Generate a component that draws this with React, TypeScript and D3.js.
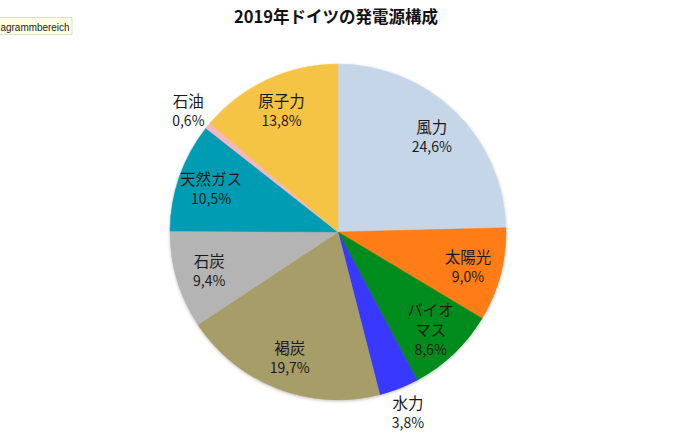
import React, { useEffect, useRef } from 'react'
import * as d3 from 'd3'

// 2019 German electricity generation mix (%)
const sources = ['風力', '太陽光', 'バイオマス', '水力', '褐炭', '石炭', '天然ガス', '石油', '原子力']
const shares = [24.6, 9.0, 8.6, 3.8, 19.7, 9.4, 10.5, 0.6, 13.8]
const labelLines = [['風力'], ['太陽光'], ['バイオ', 'マス'], ['水力'], ['褐炭'], ['石炭'], ['天然ガス'], ['石油'], ['原子力']]
const outsideLabels = ['水力', '石油']
const colors = ['#C6D6E9', '#FF7B12', '#008C1C', '#3737FF', '#A69D69', '#B4B4B4', '#009CB4', '#F3B7C1', '#F6C445']

const title = '2019年ドイツの発電源構成'
const FONT = '"Noto Sans CJK JP", "Noto Sans", sans-serif'

const App: React.FC = () => {
    const ref = useRef<SVGSVGElement | null>(null)

    useEffect(() => {
        if (!ref.current) return
        const width = 679
        const height = 434
        const cx = 338
        const cy = 232
        const radius = 168

        const svg = d3.select(ref.current)
        svg.selectAll('*').remove()
        svg.attr('width', width).attr('height', height)

        svg.append('rect').attr('width', width).attr('height', height).attr('fill', '#ffffff')

        const defs = svg.append('defs')
        const filter = defs.append('filter').attr('id', 'shadow').attr('x', '-10%').attr('y', '-10%').attr('width', '120%').attr('height', '120%')
        filter.append('feDropShadow')
            .attr('dx', 0).attr('dy', 1).attr('stdDeviation', 1.5)
            .attr('flood-color', '#000').attr('flood-opacity', 0.25)

        svg.append('text')
            .attr('x', 336)
            .attr('y', 16)
            .attr('text-anchor', 'middle')
            .attr('dominant-baseline', 'central')
            .style('font-family', FONT)
            .style('font-size', '16.5px')
            .style('font-weight', 'bold')
            .style('fill', '#111')
            .text(title)

        const data = sources.map((s, i) => ({ name: s, value: shares[i], lines: labelLines[i], color: colors[i] }))
        type D = typeof data[number]

        const pie = d3.pie<D>().value(d => d.value).sort(null)
        const arcs = pie(data)

        const arc = d3.arc<d3.PieArcDatum<D>>().innerRadius(0).outerRadius(radius)
        const inLabel = d3.arc<d3.PieArcDatum<D>>().innerRadius(radius * 0.8).outerRadius(radius * 0.8)
        const outLabel = d3.arc<d3.PieArcDatum<D>>().innerRadius(radius * 1.15).outerRadius(radius * 1.15)

        const g = svg.append('g').attr('transform', `translate(${cx},${cy})`)

        g.append('g').attr('filter', 'url(#shadow)')
            .selectAll('path')
            .data(arcs)
            .enter()
            .append('path')
            .attr('d', arc)
            .attr('fill', d => d.data.color)
            .attr('stroke', d => d.data.color)
            .attr('stroke-width', 0.5)

        const labels = g.selectAll('g.label')
            .data(arcs)
            .enter()
            .append('g')
            .attr('class', 'label')
            .attr('transform', d => {
                const c = outsideLabels.includes(d.data.name) ? outLabel.centroid(d) : inLabel.centroid(d)
                return `translate(${c[0]},${c[1]})`
            })

        labels.each(function (d) {
            const lines = [...d.data.lines, d.data.value.toFixed(1).replace('.', ',') + '%']
            const step = 20
            const start = -((lines.length - 1) * step) / 2
            const t = d3.select(this).append('text')
                .attr('text-anchor', 'middle')
                .style('font-family', FONT)
                .style('fill', '#1a1a1a')
            lines.forEach((line, i) => {
                t.append('tspan')
                    .attr('x', 0)
                    .attr('y', start + i * step)
                    .attr('dominant-baseline', 'central')
                    .style('font-size', i === lines.length - 1 ? '14px' : '15.5px')
                    .text(line)
            })
        })

        // hover tooltip left over in the screenshot (clipped at the window edge)
        const tip = svg.append('g')
        tip.append('rect')
            .attr('x', -2).attr('y', 17.5)
            .attr('width', 74).attr('height', 17)
            .attr('fill', '#FFFFE1')
            .attr('stroke', '#d8d8c0')
            .attr('stroke-width', 0.8)
        tip.append('text')
            .attr('x', 0.5).attr('y', 26.5)
            .attr('dominant-baseline', 'central')
            .attr('textLength', 69)
            .attr('lengthAdjust', 'spacingAndGlyphs')
            .style('font-family', '"Liberation Sans", Arial, sans-serif')
            .style('font-size', '11px')
            .style('fill', '#222')
            .text('agrammbereich')
    }, [])

    return <svg ref={ref} style={{ position: 'fixed', left: 0, top: 0, display: 'block' }} />
}

export default App
